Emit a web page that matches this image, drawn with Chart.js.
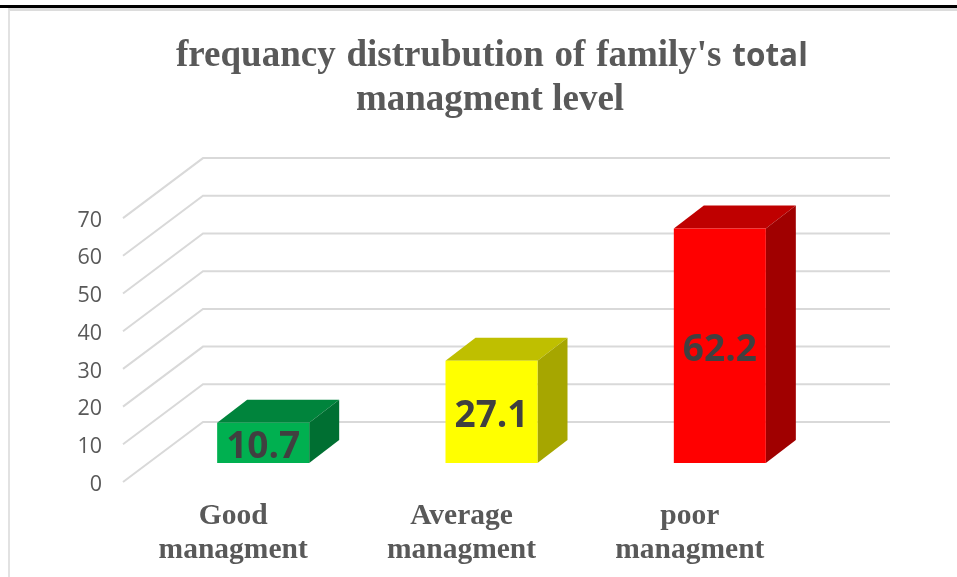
<!DOCTYPE html>
<html>
<head>
<meta charset="utf-8">
<script src="https://cdn.jsdelivr.net/npm/chart.js@4"></script>
<style>
    html, body { margin: 0; padding: 0; background: #fff; }
    #wrap { position: relative; width: 957px; height: 577px; overflow: hidden; }
    #rule { position: absolute; left: 0; top: 5px; width: 957px; height: 3px; background: #000; }
    #edge { position: absolute; left: 8px; top: 8px; width: 949px; height: 569px; border-left: 2px solid #e2e2e2; border-top: 3px solid #dcdcdc; box-sizing: border-box; }
    canvas { position: absolute; left: 0; top: 0; }
</style>
</head>
<body>
<div id="wrap">
    <canvas id="grafica" width="957" height="577"></canvas>
    <div id="edge"></div>
    <div id="rule"></div>
</div>
<script>
const categorias = [['Good', 'managment'], ['Average', 'managment'], ['poor', 'managment']];
const valores = [10.7, 27.1, 62.2];
const caras = ['#00b050', '#ffff00', '#ff0000'];
const techos = ['#00843c', '#bfbf00', '#bf0000'];
const lados = ['#006f32', '#a6a600', '#a00000'];
const marcas = [0, 10, 20, 30, 40, 50, 60, 70];

// px per unit is the same on all planes, only the zero moves
const PX = 3.77;
const AREA_ALTO = 324;
const rango = AREA_ALTO / PX;
const fondo = -60 / PX;      // back wall sits 60px above the front edge
const plano = -19 / PX;      // plane of the bars
const textoY = 2.5 / PX;     // tick text sits a little lower than the grid ends

const tresD = {
    id: 'tresD',
    beforeDatasetsDraw(chart) {
        const { ctx } = chart;
        const yF = chart.scales.yFondo;
        const yD = chart.scales.yDelante;
        ctx.save();
        ctx.strokeStyle = '#d9d9d9';
        ctx.lineWidth = 2;
        marcas.forEach(v => {
            ctx.beginPath();
            ctx.moveTo(123, yD.getPixelForValue(v));
            ctx.lineTo(203, yF.getPixelForValue(v));
            ctx.lineTo(890, yF.getPixelForValue(v));
            ctx.stroke();
        });
        // top and side of each bar, from the bar the library placed
        const dx = 30, dy = 23;
        chart.getDatasetMeta(0).data.forEach((b, i) => {
            const izq = b.x - b.width / 2, der = b.x + b.width / 2;
            ctx.fillStyle = techos[i];
            ctx.beginPath();
            ctx.moveTo(izq, b.y);
            ctx.lineTo(izq + dx, b.y - dy);
            ctx.lineTo(der + dx, b.y - dy);
            ctx.lineTo(der, b.y);
            ctx.closePath();
            ctx.fill();
            ctx.fillStyle = lados[i];
            ctx.beginPath();
            ctx.moveTo(der, b.y);
            ctx.lineTo(der + dx, b.y - dy);
            ctx.lineTo(der + dx, b.base - dy);
            ctx.lineTo(der, b.base);
            ctx.closePath();
            ctx.fill();
        });
        ctx.restore();
    },
    afterDatasetsDraw(chart) {
        const { ctx } = chart;
        ctx.save();
        ctx.fillStyle = '#404040';
        ctx.font = 'bold 37px "Open Sans", "Noto Sans", sans-serif';
        ctx.textAlign = 'center';
        ctx.textBaseline = 'middle';
        chart.getDatasetMeta(0).data.forEach((b, i) => {
            ctx.fillText(valores[i].toFixed(1), b.x, (b.y + b.base) / 2 + 5);
        });
        ctx.restore();
    },
    afterDraw(chart) {
        // the word "total" is in another font, the title plugin can't do that
        const { ctx } = chart;
        const serif = 'bold 37px "Liberation Serif", serif';
        const sans = 'bold 31.5px "Open Sans", "Noto Sans", sans-serif';
        const t1 = "frequancy distrubution of family's ";
        const t2 = 'total';
        ctx.save();
        ctx.fillStyle = '#595959';
        ctx.textBaseline = 'alphabetic';
        ctx.textAlign = 'left';
        ctx.font = serif;
        ctx.wordSpacing = '1.5px';
        ctx.fillText(t1, 176, 66);
        const ancho = ctx.measureText(t1).width;
        ctx.wordSpacing = '0px';
        ctx.font = sans;
        ctx.fillText(t2, 176 + ancho, 66);
        ctx.font = serif;
        ctx.textAlign = 'center';
        ctx.fillText('managment level', 490, 110);
        ctx.restore();
    }
};

new Chart(document.getElementById('grafica'), {
    type: 'bar',
    data: {
        labels: categorias,
        datasets: [{
            data: valores,
            backgroundColor: caras,
            borderWidth: 0,
            categoryPercentage: 1,
            barPercentage: 0.403,
            yAxisID: 'y'
        }]
    },
    options: {
        responsive: false,
        animation: false,
        layout: { padding: { top: 158, right: 123 } },
        plugins: { legend: { display: false }, tooltip: { enabled: false }, title: { display: false } },
        scales: {
            x: {
                afterFit(s) { s.height = 95; },
                grid: { display: false },
                border: { display: false },
                ticks: {
                    labelOffset: -30,
                    padding: 9,
                    maxRotation: 0,
                    color: '#595959',
                    font: { family: '"Liberation Serif", serif', size: 29.5, weight: 'bold', lineHeight: 1.17 }
                }
            },
            y: { display: false, min: plano, max: plano + rango },
            yFondo: { display: false, min: fondo, max: fondo + rango },
            yDelante: { display: false, min: 0, max: rango },
            yTicks: {
                position: 'left',
                min: textoY,
                max: textoY + rango,
                afterBuildTicks(s) { s.ticks = marcas.map(v => ({ value: v })); },
                afterFit(s) { s.width = 149; },
                grid: { display: false },
                border: { display: false },
                ticks: {
                    padding: 39,
                    autoSkip: false,
                    color: '#595959',
                    font: { family: '"Open Sans", "Noto Sans", sans-serif', size: 21.5 }
                }
            }
        }
    },
    plugins: [tresD]
});
</script>
</body>
</html>
